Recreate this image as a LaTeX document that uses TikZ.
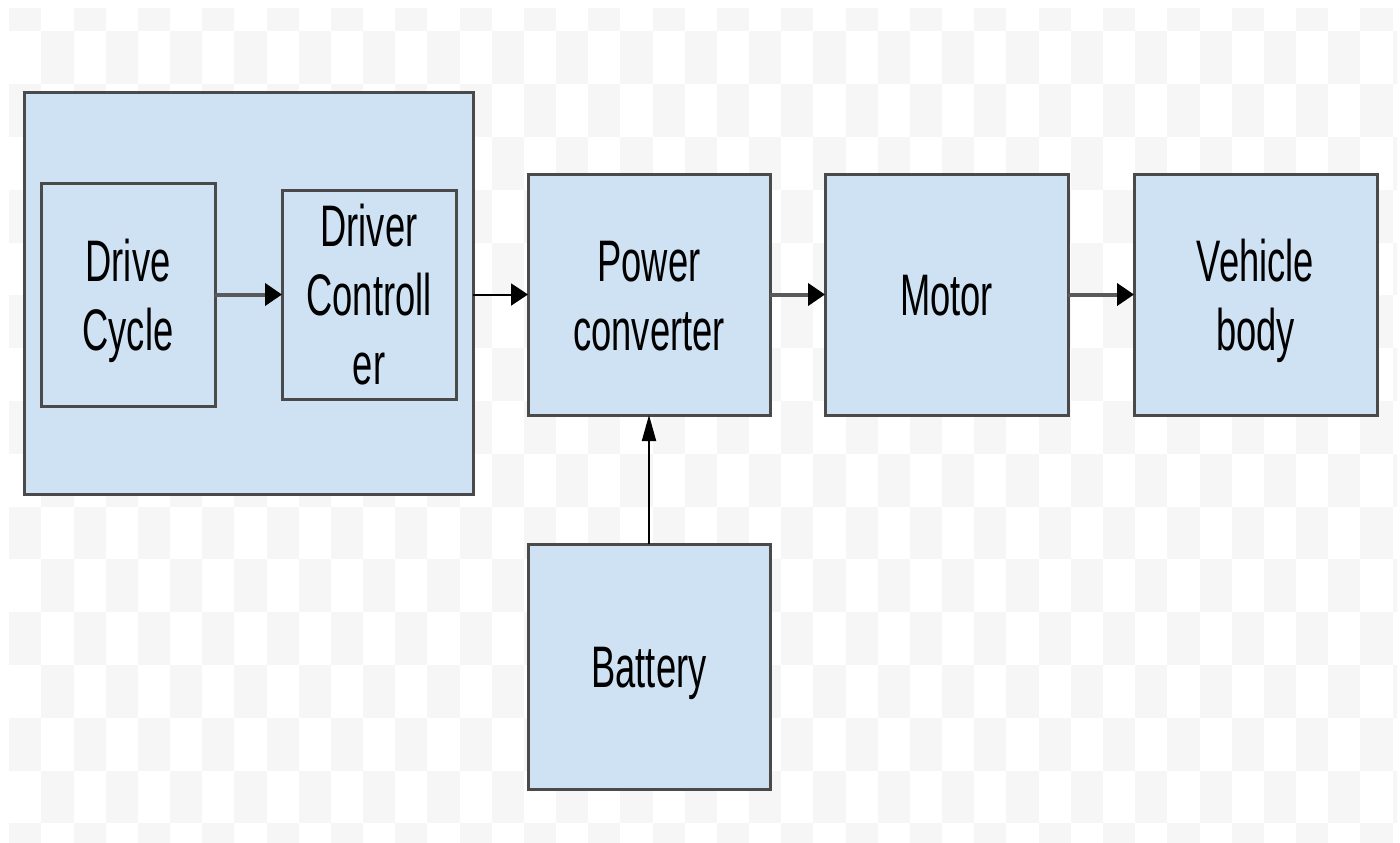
\documentclass[tikz,border=0pt]{standalone}
\usepackage{fontspec}
\setmainfont{Liberation Sans}
\usetikzlibrary{arrows.meta}
\definecolor{boxfill}{HTML}{CFE2F3}
\definecolor{boxline}{HTML}{4A4A4A}
\definecolor{checker}{HTML}{F6F6F6}
\definecolor{arrgray}{HTML}{5A5A5A}
\newcommand\boxlbl[1]{\raisebox{-3.6pt}[\height][\depth]{\scalebox{0.62}[1]{\fontsize{29.3}{34.5}\selectfont\begin{tabular}{@{}c@{}}#1\end{tabular}}}}
\begin{document}
\begin{tikzpicture}[x=0.5pt,y=-0.5pt,
  blk/.style={draw=boxline, fill=boxfill, line width=1.5pt, inner sep=0pt, outer sep=0pt},
  thickarr/.style={draw=arrgray, line width=2pt, -{Triangle[length=8.5pt,width=11pt,color=black]}},
  thinarr/.style={draw=black, line width=1pt, -{Triangle[length=8.5pt,width=11pt,color=black]}},
  vertarr/.style={draw=black, line width=1pt, -{Triangle[length=13pt,width=7pt,color=black]}}]
\useasboundingbox (0,0) rectangle (1400,842);
\fill[white] (0,0) rectangle (1400,842);
\begin{scope}
  \clip (9.2,8) rectangle (1397,842);
  \foreach \r in {0,...,16} {
    \foreach \c in {0,...,43} {
      \pgfmathtruncatemacro\s{mod(\r+\c,2)}
      \ifnum\s=0
        \fill[checker] ({9.2+32.17*\c},{31.3+52.8*(\r-1)}) rectangle ++(32.17,52.8);
      \fi
    }
  }
\end{scope}

\node[blk, minimum width=224.5pt, minimum height=201pt] (group) at (248.5,293) {};
\node[blk, minimum width=87pt, minimum height=111.5pt] (drive) at (128,294.5) {\boxlbl{Drive\\Cycle}};
\node[blk, minimum width=87pt, minimum height=104.5pt] (ctrl) at (369,294.5) {\boxlbl{Driver\\Controll\\er}};
\node[blk, minimum width=121pt, minimum height=120.5pt] (power) at (649,294.5) {\boxlbl{Power\\converter}};
\node[blk, minimum width=121.5pt, minimum height=120.5pt] (motor) at (946.5,294.5) {\boxlbl{Motor}};
\node[blk, minimum width=121.5pt, minimum height=120.5pt] (vehicle) at (1255.5,294.5) {\boxlbl{Vehicle\\body}};
\node[blk, minimum width=121pt, minimum height=122.5pt] (battery) at (649,666.5) {\boxlbl{Battery}};

\draw[thickarr] (drive) -- (ctrl);
\draw[thinarr] (group.east |- power.west) -- (power.west);
\draw[thickarr] (power) -- (motor);
\draw[thickarr] (motor) -- (vehicle);
\draw[vertarr] (battery) -- (power);
\end{tikzpicture}
\end{document}
